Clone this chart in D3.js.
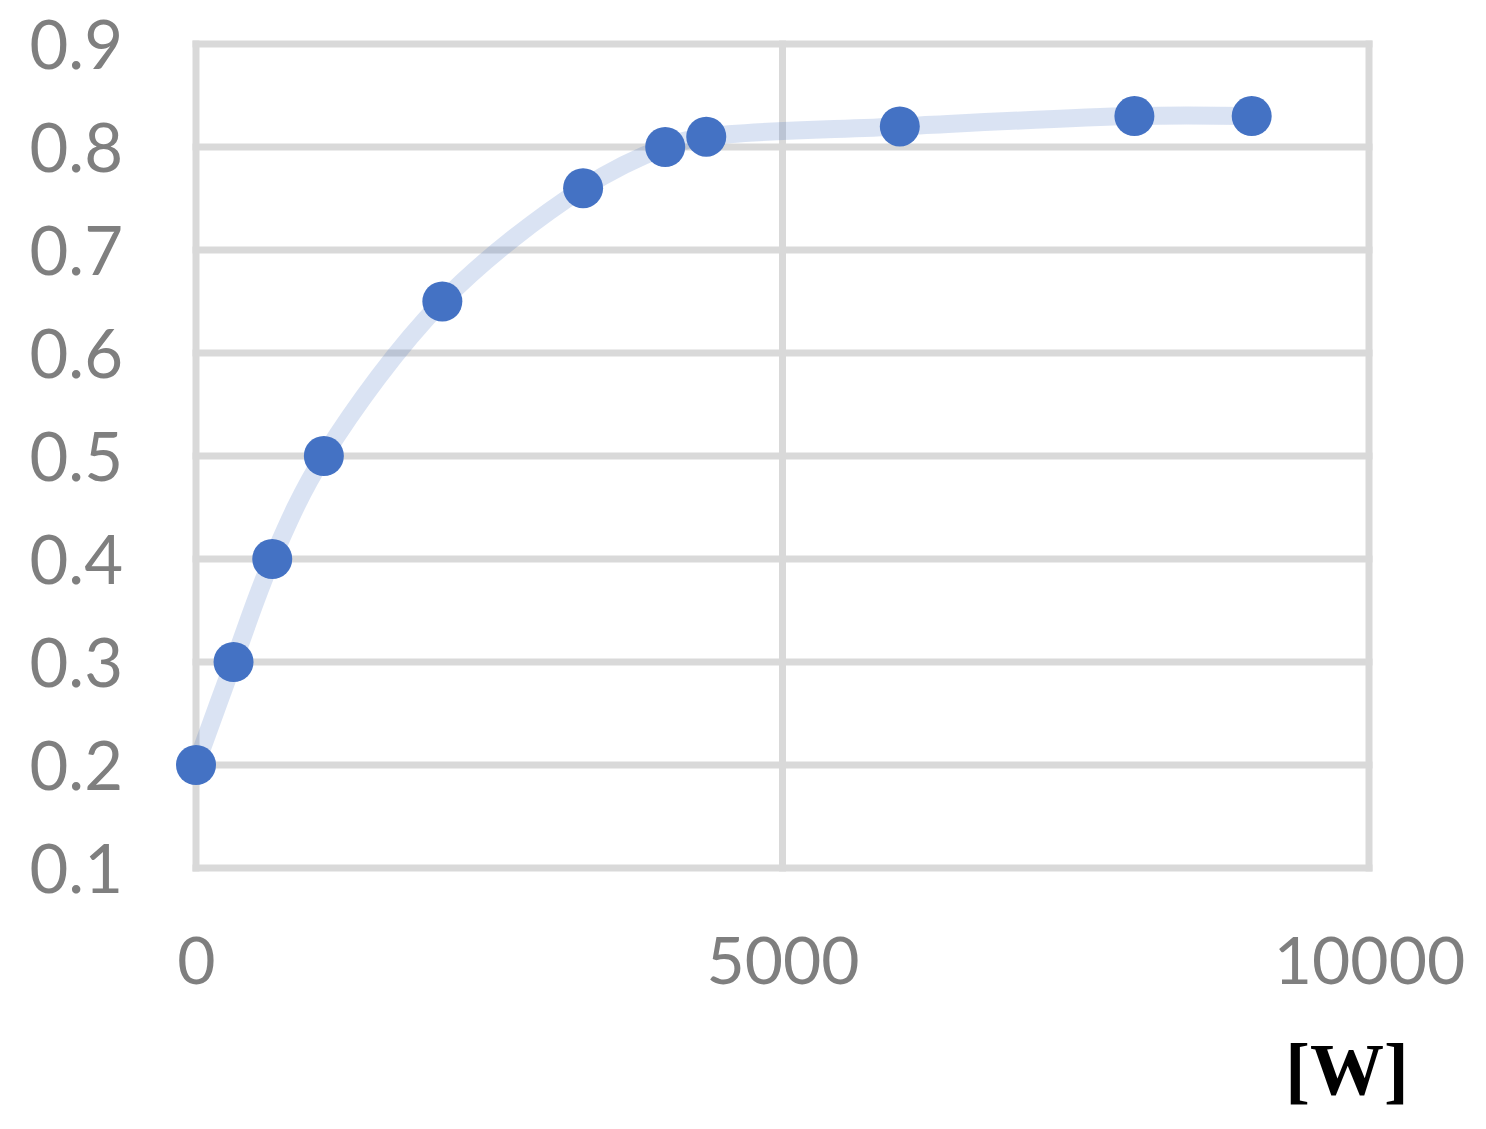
<!DOCTYPE html>
<html>
<head>
<meta charset="utf-8">
<script src="https://cdn.jsdelivr.net/npm/d3@7"></script>
<style>
  body { margin: 0; background: #fff; }
  svg { display: block; }
</style>
</head>
<body>
<svg width="1486" height="1129"></svg>
<script>
// power [W] vs efficiency
var powerW = [0, 320, 650, 1090, 2100, 3300, 4000, 4350, 6000, 8000, 9000];
var efficiency = [0.2, 0.3, 0.4, 0.5, 0.65, 0.76, 0.8, 0.81, 0.82, 0.83, 0.83];
var xTicks = [0, 5000, 10000];
var yTicks = [0.1, 0.2, 0.3, 0.4, 0.5, 0.6, 0.7, 0.8, 0.9];

var gridColor = "#d9d9d9";
var labelColor = "#7f7f7f";
var blue = "#4472c4";

var svg = d3.select("svg");

var x = d3.scaleLinear().domain([0, 10000]).range([196, 1369]);
var y = d3.scaleLinear().domain([0.1, 0.9]).range([868, 44]);

var data = powerW.map(function(p, i) { return {x: p, y: efficiency[i]}; });

// grid
var grid = svg.append("g");
grid.selectAll(".hgrid")
    .data(yTicks)
    .enter().append("line")
    .attr("x1", x(0)).attr("x2", x(10000))
    .attr("y1", d => y(d)).attr("y2", d => y(d))
    .attr("stroke", gridColor)
    .attr("stroke-width", 7)
    .attr("stroke-linecap", "square");

grid.selectAll(".vgrid")
    .data(xTicks)
    .enter().append("line")
    .attr("x1", d => x(d)).attr("x2", d => x(d))
    .attr("y1", y(0.9)).attr("y2", y(0.1))
    .attr("stroke", gridColor)
    .attr("stroke-width", 7)
    .attr("stroke-linecap", "square");

// y axis labels
var yAxis = d3.axisLeft(y).tickValues(yTicks).tickFormat(d3.format(".1f")).tickSize(0).tickPadding(0);
var gy = svg.append("g").attr("transform", "translate(123,0)").call(yAxis);
gy.select(".domain").remove();
gy.selectAll("text")
    .attr("fill", labelColor)
    .style("font-family", "Lato, 'Open Sans', sans-serif")
    .style("font-size", "67px")
    .attr("dy", "0.36em");

// x axis labels
var xAxis = d3.axisBottom(x).tickValues(xTicks).tickFormat(d3.format("d")).tickSize(0).tickPadding(0);
var gx = svg.append("g").attr("transform", "translate(0,937)").call(xAxis);
gx.select(".domain").remove();
gx.selectAll("text")
    .attr("fill", labelColor)
    .style("font-family", "Lato, 'Open Sans', sans-serif")
    .style("font-size", "66px")
    .attr("dy", "0.71em");

// unit label
svg.append("text")
    .attr("x", 1347)
    .attr("y", 1095)
    .attr("text-anchor", "middle")
    .style("font-family", "'Liberation Serif', 'Times New Roman', serif")
    .style("font-weight", "bold")
    .style("font-size", "74px")
    .attr("fill", "#000")
    .text("[W]");

// smoothed line
var line = d3.line()
    .x(d => x(d.x))
    .y(d => y(d.y))
    .curve(d3.curveCatmullRom.alpha(0.5));

svg.append("path")
    .datum(data)
    .attr("d", line)
    .attr("fill", "none")
    .attr("stroke", blue)
    .attr("stroke-opacity", 0.2)
    .attr("stroke-width", 18);

// markers
svg.selectAll(".dot")
    .data(data)
    .enter().append("circle")
    .attr("cx", d => x(d.x))
    .attr("cy", d => y(d.y))
    .attr("r", 20)
    .attr("fill", blue);
</script>
</body>
</html>
